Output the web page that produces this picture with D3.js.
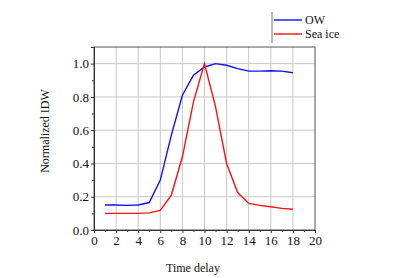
<!DOCTYPE html>
<html>
<head>
<meta charset="utf-8">
<script src="https://cdn.jsdelivr.net/npm/d3@7"></script>
<style>
  body { margin: 0; background: #fff; }
  svg text { font-family: "Liberation Serif", "DejaVu Serif", serif !important; fill: #111; }
</style>
</head>
<body>
<svg id="chart" width="416" height="278"></svg>
<script>
// chart data
const delays = [1, 2, 3, 4, 5, 6, 7, 8, 9, 10, 11, 12, 13, 14, 15, 16, 17, 18];
const owValues = [0.15, 0.15, 0.148, 0.15, 0.165, 0.30, 0.57, 0.81, 0.93, 0.98, 1.0, 0.99, 0.97, 0.955, 0.955, 0.957, 0.955, 0.945];
const seaIceValues = [0.1, 0.1, 0.1, 0.1, 0.103, 0.118, 0.21, 0.44, 0.77, 1.0, 0.74, 0.40, 0.225, 0.16, 0.148, 0.14, 0.13, 0.125];
const xTicks = [0, 2, 4, 6, 8, 10, 12, 14, 16, 18, 20];
const yTicks = [0, 0.2, 0.4, 0.6, 0.8, 1.0];
const seriesNames = ['OW', 'Sea ice'];
const seriesColors = ['#1010ff', '#ff1010'];

const svg = d3.select('svg#chart');
const plotLeft = 94, plotRight = 315, plotTop = 47, plotBottom = 230;

const x = d3.scaleLinear().domain([0, 20]).range([plotLeft, plotRight]);
const y = d3.scaleLinear().domain([0, 1.1]).range([plotBottom, plotTop]);

// grid
svg.append('g').selectAll('line')
    .data(xTicks.filter(d => d > 0 && d < 20))
    .enter().append('line')
    .attr('x1', d => x(d)).attr('x2', d => x(d))
    .attr('y1', plotTop).attr('y2', plotBottom)
    .attr('stroke', '#c8c8c8').attr('stroke-width', 1);
svg.append('g').selectAll('line')
    .data(yTicks.filter(d => d > 0))
    .enter().append('line')
    .attr('x1', plotLeft).attr('x2', plotRight)
    .attr('y1', d => y(d)).attr('y2', d => y(d))
    .attr('stroke', '#c8c8c8').attr('stroke-width', 1);

// box
svg.append('rect')
    .attr('x', plotLeft).attr('y', plotTop)
    .attr('width', plotRight - plotLeft).attr('height', plotBottom - plotTop)
    .attr('fill', 'none').attr('stroke', '#555').attr('stroke-width', 1);

// axes
svg.append('g').attr('transform', `translate(0,${plotBottom})`)
    .call(d3.axisBottom(x).tickValues(xTicks).tickSize(3).tickPadding(3).tickFormat(d3.format('d')));
svg.append('g').attr('transform', `translate(0,${plotBottom})`)
    .call(d3.axisBottom(x).tickValues(d3.range(1, 20, 2)).tickSize(2).tickFormat(''))
    .select('.domain').remove();
svg.append('g').attr('transform', `translate(${plotLeft},0)`)
    .call(d3.axisLeft(y).tickValues(yTicks).tickSize(3).tickPadding(2).tickFormat(d3.format('.1f')));
svg.append('g').attr('transform', `translate(${plotLeft},0)`)
    .call(d3.axisLeft(y).tickValues([0.1, 0.3, 0.5, 0.7, 0.9, 1.1]).tickSize(2).tickFormat(''))
    .select('.domain').remove();

svg.selectAll('.domain').attr('stroke', '#333');
svg.selectAll('.tick line').attr('stroke', '#333');
svg.selectAll('g').attr('font-family', null);
svg.selectAll('.tick text').style('font-size', '13px').attr('fill', '#111');

// lines
const series = [owValues, seaIceValues];
const line = d3.line().x((d, i) => x(delays[i])).y(d => y(d));
svg.append('g').selectAll('path')
    .data(series)
    .enter().append('path')
    .attr('d', d => line(d))
    .attr('fill', 'none')
    .attr('stroke', (d, i) => seriesColors[i])
    .attr('stroke-width', 1.4);

// axis titles
svg.append('text')
    .attr('x', 193).attr('y', 272)
    .attr('text-anchor', 'middle')
    .style('font-size', '12px')
    .text('Time delay');
svg.append('text')
    .attr('transform', 'translate(49,131) rotate(-90)')
    .attr('text-anchor', 'middle')
    .style('font-size', '12px')
    .text('Normalized IDW');

// legend
svg.append('line')
    .attr('x1', 272).attr('x2', 272).attr('y1', 12).attr('y2', 43)
    .attr('stroke', '#777');
let legend = svg.append('g').selectAll('g')
    .data(seriesNames)
    .enter().append('g')
    .attr('transform', (d, i) => `translate(274,${20 + i * 14})`);
legend.append('line')
    .attr('x1', 0).attr('x2', 28)
    .attr('stroke', (d, i) => seriesColors[i])
    .attr('stroke-width', 1.4);
legend.append('text')
    .attr('x', 31).attr('y', 4)
    .style('font-size', '12px')
    .text(d => d);
</script>
</body>
</html>
